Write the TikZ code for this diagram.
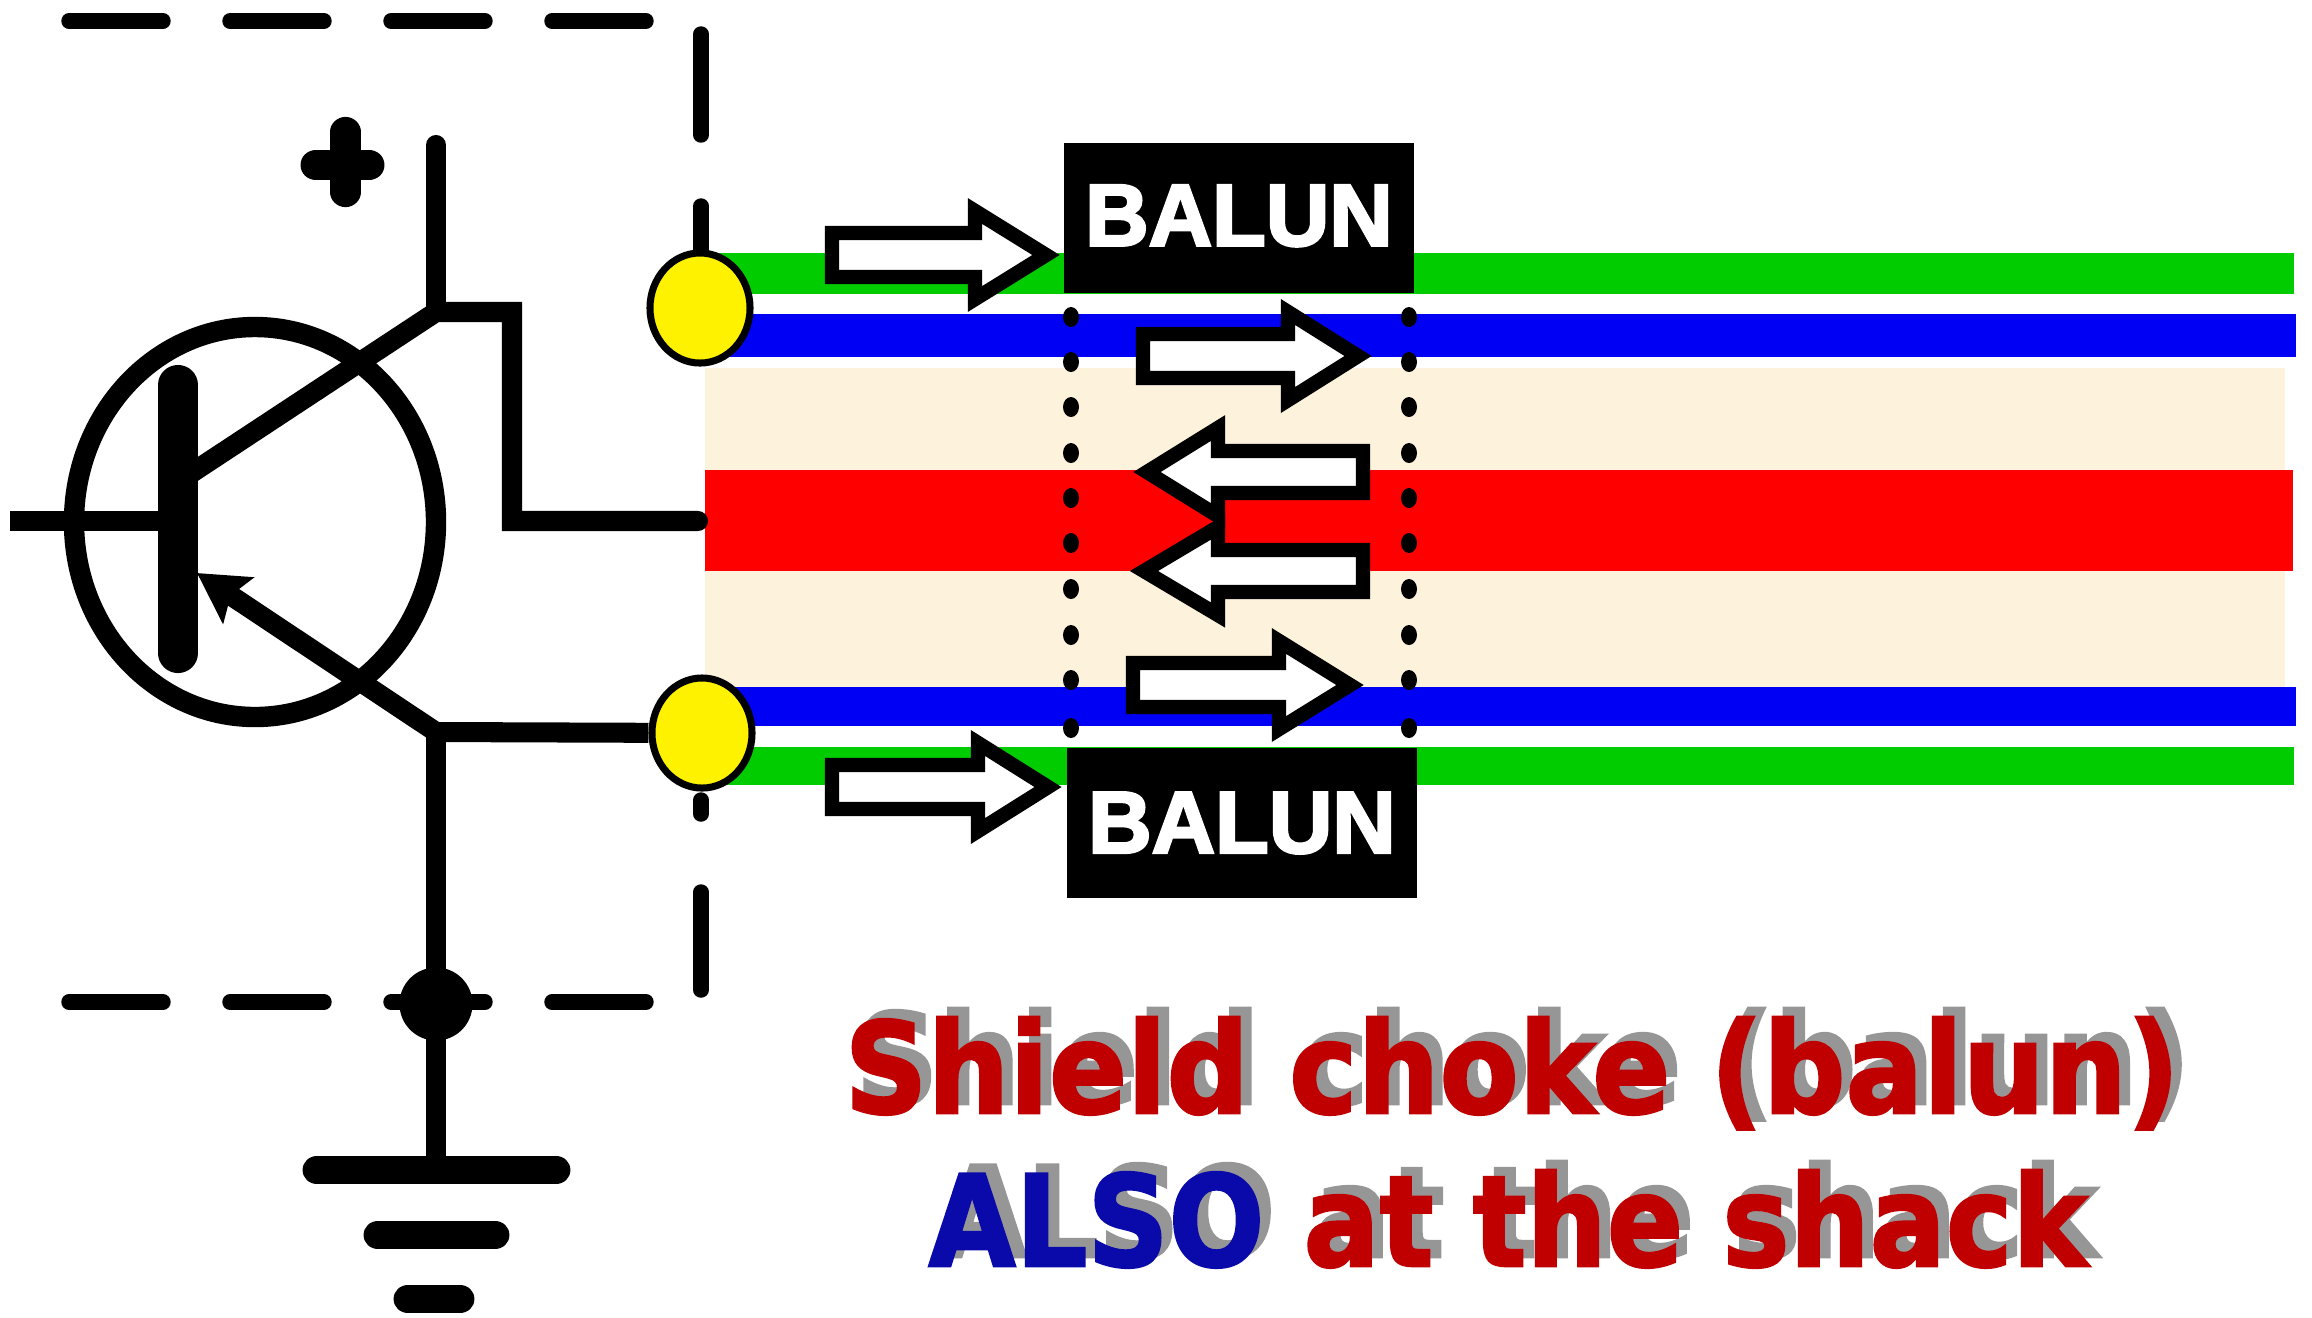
\documentclass[tikz,border=0pt]{standalone}
\usepackage{fontspec}
\newfontfamily\balunfont{Liberation Sans Bold}[FakeBold=3]
\newfontfamily\titlefont{DejaVu Sans Bold}[FakeBold=2]
\usetikzlibrary{arrows.meta,shapes.geometric}
\definecolor{shieldgreen}{HTML}{00CC00}
\definecolor{coreblue}{HTML}{0000F5}
\definecolor{corered}{HTML}{FE0000}
\definecolor{gapcream}{HTML}{FDF3DC}
\definecolor{titlered}{HTML}{C00000}
\definecolor{titleblue}{HTML}{0A0AAA}
\definecolor{titlegrey}{HTML}{969696}

\begin{document}
\begin{tikzpicture}[
  x=0.01cm,y=-0.01cm,
  wire/.style={line width=5.7pt,line cap=round,line join=miter},
  framedash/.style={line width=4.4pt,line cap=round},
  groundbar/.style={line width=8.2pt,line cap=round},
  balunbox/.style={fill=black,text=white,inner sep=0pt,minimum width=3.5cm,minimum height=1.5cm,font=\balunfont\fontsize{25}{25}\selectfont},
  port/.style={ellipse,draw=black,line width=2pt,fill=yellow,inner sep=0pt,minimum width=1cm,minimum height=1.1cm},
  chokearrow/.style={draw=black,fill=white,line width=4.1pt,miter limit=6,line join=miter},
  titletext/.style={font=\titlefont\fontsize{36}{36}\selectfont,inner sep=0pt,anchor=base,transform shape},
]
  \useasboundingbox (0,0) rectangle (2312,1317);
  % cable
  \fill[gapcream] (705,368) rectangle (2285,687);
  \fill[corered] (705,470) rectangle (2293,571);
  \foreach \ytop/\ybot in {253/294,747/785}{
    \fill[shieldgreen] (700,\ytop) rectangle (2294,\ybot);
  }
  \foreach \ytop/\ybot in {314/357,687/726}{
    \fill[coreblue] (700,\ytop) rectangle (2296,\ybot);
  }
  % baluns
  \node[balunbox] (baluntop) at (1239,218) {\raisebox{1.5pt}{BALUN}};
  \node[balunbox] (balunbot) at (1242,823) {\raisebox{-1pt}{BALUN}};
  \foreach \xdot in {1071,1409}{
    \foreach \ydot in {317,362,407,453,498,543,589,635,680,728}{
      \fill[black] (\xdot,\ydot) ellipse (8 and 10);
    }
  }
  % current arrows
  \foreach \tail/\neck/\tip/\ymid in {832/975/1046/255,1143/1288/1358/356,1133/1279/1350/685,832/978/1048/787}{
    \draw[chokearrow] (\tail,{\ymid-22}) -- (\neck,{\ymid-22}) -- (\neck,{\ymid-44}) -- (\tip,\ymid)
      -- (\neck,{\ymid+44}) -- (\neck,{\ymid+22}) -- (\tail,{\ymid+22}) -- cycle;
  }
  \foreach \tail/\neck/\tip/\ymid in {1363/1218/1147/472,1363/1218/1144/571}{
    \draw[chokearrow] (\tail,{\ymid-21}) -- (\neck,{\ymid-21}) -- (\neck,{\ymid-44}) -- (\tip,\ymid)
      -- (\neck,{\ymid+44}) -- (\neck,{\ymid+21}) -- (\tail,{\ymid+21}) -- cycle;
  }
  % shielding box
  \foreach \y in {21,1002}{
    \foreach \xa/\xb in {69/163,230/324,391/485,552/646}{
      \draw[framedash] (\xa,\y) -- (\xb,\y);
    }
  }
  \foreach \ya/\yb in {34/135,206/300,800/814,892/990}{
    \draw[framedash] (701,\ya) -- (701,\yb);
  }
  % transistor
  \coordinate (supply) at (436,145);
  \coordinate (collector) at (436,312);
  \coordinate (bend) at (512,312);
  \coordinate (elbow) at (512,521);
  \coordinate (coreend) at (698,521);
  \coordinate (baseend) at (10,521);
  \coordinate (basepoint) at (178,521);
  \coordinate (colfoot) at (190,474);
  \coordinate (emittip) at (197,573);
  \coordinate (emitter) at (436,732);
  \coordinate (groundtop) at (436,1160);
  \draw[line width=5.8pt] (255,522) ellipse (181 and 195);
  \draw[line width=11.4pt,line cap=round] (178,385) -- (178,653);
  \draw[wire,line cap=butt] (baseend) -- (basepoint);
  \draw[wire] (supply) -- (collector);
  \draw[wire] (colfoot) -- (collector) -- (bend) -- (elbow) -- (coreend);
  \draw[wire,line cap=butt,-{Stealth[length=14pt,width=15.5pt,inset=2.5pt]}] (emitter) -- (emittip);
  \draw[wire] (emitter) -- (groundtop);
  % ports
  \node[port] (porttop) at (700,308) {};
  \node[port] (portbot) at (702,733) {};
  \draw[wire,line cap=butt] (emitter) -- (portbot);
  % supply and ground
  \node[fill=black,ellipse,inner sep=0pt,minimum width=.73cm,minimum height=.73cm] (gnddot) at (436,1004) {};
  \draw[line width=8.6pt,line cap=round] (345.5,132) -- (345.5,192);
  \draw[line width=8.8pt,line cap=round] (316,165) -- (369,165);
  \draw[groundbar] (317,1170) -- (556,1170);
  \draw[groundbar] (378,1235) -- (495,1235);
  \draw[groundbar] (408,1299) -- (460,1299);
  % caption
  \node[titletext,text=titlegrey,xscale=.91] (titleshadow) at (1523,1104) {Shield choke (balun)};
  \node[titletext,text=titlered,xscale=.91] (titlemain) at (1512,1113) {Shield choke (balun)};
  \node[titletext,text=titlegrey,xscale=.89] (shackshadow) at (1519,1257) {ALSO at the shack};
  \node[titletext,text=titlered,xscale=.89] (shackmain) at (1508,1266) {\textcolor{titleblue}{ALSO} at the shack};
\end{tikzpicture}
\end{document}
